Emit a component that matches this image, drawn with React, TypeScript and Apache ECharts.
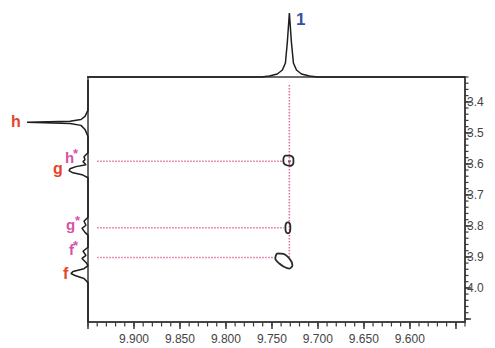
import React, { useEffect, useRef } from "react";
import * as echarts from "echarts";

// Axis ranges (ppm)
const X_MIN = 9.54;
const X_MAX = 9.95;
const Y_MIN = 3.32;
const Y_MAX = 4.11;
const X_MINOR_STEP = 0.01;
const Y_MINOR_STEP = 0.02;

// Tick labels
const xLabelValues = [9.9, 9.85, 9.8, 9.75, 9.7, 9.65, 9.6];
const xMajorTickValues = [9.95, 9.9, 9.85, 9.8, 9.75, 9.7, 9.65, 9.6, 9.55];
const yLabelValues = [3.4, 3.5, 3.6, 3.7, 3.8, 3.9, 4.0];
const yMajorTickValues = [3.4, 3.5, 3.6, 3.7, 3.8, 3.9, 4.0, 4.1];

// Top 1D projection (peak "1")
const topPpm = [9.951, 9.7615, 9.7528, 9.7441, 9.7386, 9.7353, 9.7332, 9.731, 9.7288, 9.7266, 9.7233, 9.7179, 9.7092, 9.7004, 9.54];
const topIntensity = [0, 0, 1, 3, 7, 14, 35, 64, 35, 14, 7, 3, 1, 0, 0];

// Left 1D projection (h, h*, g, g*, f*, f)
const leftPpm = [3.33, 3.427, 3.447, 3.457, 3.463, 3.466, 3.47, 3.476, 3.489, 3.512, 3.564, 3.577, 3.587, 3.593, 3.603, 3.609, 3.616, 3.622, 3.629, 3.635, 3.645, 3.772, 3.785, 3.798, 3.808, 3.821, 3.83, 3.869, 3.882, 3.895, 3.905, 3.918, 3.928, 3.938, 3.947, 3.954, 3.96, 3.97, 3.983, 4.11];
const leftIntensity = [0, 0, 3, 7, 18, 61, 18, 7, 3, 0, 0, 4, 3, 5, 2, 12, 18, 19, 15, 6, 0, 0, 4, 2, 6, 3, 0, 0, 5, 2, 6, 2, 0, 4, 15, 17, 13, 4, 0, 0];

// Cross peak contours
const contourHStarX = [9.7375, 9.7353, 9.731, 9.7266, 9.7266, 9.7299, 9.7353, 9.7375, 9.7375];
const contourHStarY = [3.5833, 3.5736, 3.5736, 3.5833, 3.5963, 3.6061, 3.6028, 3.5931, 3.5833];
const contourHStarDot = [9.731, 3.592];
const contourGStarX = [9.7326, 9.7304, 9.7299, 9.7304, 9.7326, 9.7348, 9.7353, 9.7348, 9.7326];
const contourGStarY = [3.7882, 3.793, 3.806, 3.819, 3.8239, 3.819, 3.806, 3.793, 3.7882];
const contourFStarX = [9.7441, 9.7375, 9.7332, 9.7288, 9.7277, 9.731, 9.7364, 9.7419, 9.7463, 9.7452, 9.7441];
const contourFStarY = [3.8889, 3.8905, 3.8987, 3.9149, 3.9279, 3.9377, 3.9328, 3.9214, 3.9052, 3.8922, 3.8889];

// Dotted guide lines
const guideVerticalX = 9.731;
const guideVerticalY = [3.346, 3.905];
const guideStartX = 9.94;
const guideRowsY = [3.592, 3.806, 3.902];
const guideRowsEndX = [9.7386, 9.737, 9.747];

const FONT = "'Liberation Sans', Arial, sans-serif";
const RED = "#e5432d";
const MAGENTA = "#d554a8";
const BLUE = "#3650a6";
const DOT = "#e36aa3";
const AXIS = "#3a3a3a";

function range(a: number, b: number, step: number, digits: number) {
  const out: number[] = [];
  const n = Math.round((b - a) / step);
  for (let i = 0; i <= n; i++) out.push(+(a + i * step).toFixed(digits));
  return out;
}

function pairs(xs: number[], ys: number[]) {
  return xs.map((x, i) => [x, ys[i]]);
}

export default function App() {
  const ref = useRef<HTMLDivElement>(null);
  useEffect(() => {
    const chart = echarts.init(ref.current!, null, { renderer: "svg" });
    const xMinor = range(X_MIN, X_MAX, X_MINOR_STEP, 2);
    const yMinor = range(Y_MIN, 4.1, Y_MINOR_STEP, 2);

    const lineBase = {
      type: "line",
      symbol: "none",
      animation: false,
      silent: true,
    };

    const series: any[] = [
      {
        ...lineBase,
        xAxisIndex: 1,
        yAxisIndex: 1,
        data: pairs(topPpm, topIntensity),
        lineStyle: { color: "#1e1e1e", width: 1.5 },
        clip: false,
      },
      {
        ...lineBase,
        xAxisIndex: 2,
        yAxisIndex: 2,
        data: pairs(leftIntensity, leftPpm),
        lineStyle: { color: "#1e1e1e", width: 1.5 },
        clip: false,
      },
      {
        ...lineBase,
        xAxisIndex: 0,
        yAxisIndex: 0,
        data: [
          [guideVerticalX, guideVerticalY[0]],
          [guideVerticalX, guideVerticalY[1]],
        ],
        lineStyle: { color: DOT, width: 1.5, type: [1.5, 1.5] },
      },
      ...guideRowsY.map((y, i) => ({
        ...lineBase,
        xAxisIndex: 0,
        yAxisIndex: 0,
        data: [
          [guideStartX, y],
          [guideRowsEndX[i], y],
        ],
        lineStyle: { color: DOT, width: 1.5, type: [1.5, 1.5] },
      })),
      {
        ...lineBase,
        xAxisIndex: 0,
        yAxisIndex: 0,
        smooth: 0.4,
        data: pairs(contourHStarX, contourHStarY),
        lineStyle: { color: "#2a2a2a", width: 1.8 },
      },
      {
        type: "scatter",
        xAxisIndex: 0,
        yAxisIndex: 0,
        symbolSize: 3,
        data: [contourHStarDot],
        itemStyle: { color: "#2a2a2a" },
        silent: true,
      },
      {
        ...lineBase,
        xAxisIndex: 0,
        yAxisIndex: 0,
        smooth: 0.4,
        data: pairs(contourGStarX, contourGStarY),
        lineStyle: { color: "#2a2a2a", width: 1.8 },
      },
      {
        ...lineBase,
        xAxisIndex: 0,
        yAxisIndex: 0,
        smooth: 0.3,
        data: pairs(contourFStarX, contourFStarY),
        lineStyle: { color: "#2a2a2a", width: 1.8 },
      },
      // Minor ticks on the bottom axis
      {
        type: "custom",
        xAxisIndex: 0,
        yAxisIndex: 0,
        silent: true,
        clip: false,
        data: xMinor.map((v) => [v, Y_MAX]),
        renderItem: (params: any, api: any) => {
          const p = api.coord([api.value(0), api.value(1)]);
          return {
            type: "line",
            shape: { x1: p[0], y1: p[1], x2: p[0], y2: p[1] + 4.5 },
            style: { stroke: AXIS, lineWidth: 1.2 },
          };
        },
      },
      // Minor ticks on the right axis
      {
        type: "custom",
        xAxisIndex: 0,
        yAxisIndex: 0,
        silent: true,
        clip: false,
        data: yMinor.map((v) => [X_MIN, v]),
        renderItem: (params: any, api: any) => {
          const p = api.coord([api.value(0), api.value(1)]);
          return {
            type: "line",
            shape: { x1: p[0], y1: p[1], x2: p[0] + 3.5, y2: p[1] },
            style: { stroke: AXIS, lineWidth: 1.2 },
          };
        },
      },
    ];

    const label = (text: string, x: number, y: number, color: string, size: number) => ({
      type: "text",
      x,
      y,
      silent: true,
      style: {
        text,
        fill: color,
        font: `bold ${size}px ${FONT}`,
        align: "left",
        verticalAlign: "middle",
      },
    });

    const option: any = {
      animation: false,
      backgroundColor: "#ffffff",
      grid: [
        {
          left: 88,
          right: 30,
          top: 77,
          bottom: 26,
          show: true,
          borderColor: AXIS,
          borderWidth: 1.5,
          backgroundColor: "transparent",
        },
        { left: 88, right: 30, top: 5, height: 72 },
        { left: 0, width: 88, top: 77, bottom: 26 },
      ],
      xAxis: [
        {
          type: "value",
          gridIndex: 0,
          min: X_MIN,
          max: X_MAX,
          inverse: true,
          position: "bottom",
          splitLine: { show: false },
          axisLine: { show: true, onZero: false, lineStyle: { color: AXIS, width: 1.5 } },
          axisTick: {
            show: true,
            inside: false,
            length: 7,
            customValues: xMajorTickValues,
            lineStyle: { color: AXIS, width: 1.5 },
          },
          axisLabel: {
            show: true,
            customValues: xLabelValues,
            margin: 11,
            color: "#444",
            fontSize: 12,
            fontFamily: FONT,
            formatter: (v: number) => v.toFixed(3),
          },
        },
        {
          type: "value",
          gridIndex: 1,
          min: X_MIN,
          max: X_MAX,
          inverse: true,
          show: false,
        },
        {
          type: "value",
          gridIndex: 2,
          min: 0,
          max: 88,
          inverse: true,
          show: false,
        },
      ],
      yAxis: [
        {
          type: "value",
          gridIndex: 0,
          min: Y_MIN,
          max: Y_MAX,
          inverse: true,
          position: "right",
          splitLine: { show: false },
          axisLine: { show: true, onZero: false, lineStyle: { color: AXIS, width: 1.5 } },
          axisTick: {
            show: true,
            length: 6,
            customValues: yMajorTickValues,
            lineStyle: { color: AXIS, width: 1.5 },
          },
          axisLabel: {
            show: true,
            customValues: yLabelValues,
            margin: 2,
            color: "#444",
            fontSize: 12,
            fontFamily: FONT,
            formatter: (v: number) => v.toFixed(1),
          },
        },
        {
          type: "value",
          gridIndex: 1,
          min: 0,
          max: 72,
          show: false,
        },
        {
          type: "value",
          gridIndex: 2,
          min: Y_MIN,
          max: Y_MAX,
          inverse: true,
          show: false,
        },
      ],
      series,
      graphic: [
        label("1", 296, 19, BLUE, 17),
        label("h", 11, 121, RED, 16),
        label("h", 65, 157, MAGENTA, 15),
        label("*", 73, 153, MAGENTA, 13),
        label("g", 53, 168, RED, 16),
        label("g", 66, 224, MAGENTA, 15),
        label("*", 75, 220, MAGENTA, 13),
        label("f", 69, 249, MAGENTA, 15),
        label("*", 73, 245, MAGENTA, 13),
        label("f", 63, 273, RED, 16),
      ],
    };
    chart.setOption(option);
    return () => chart.dispose();
  }, []);
  return (
    <div
      ref={ref}
      style={{ position: "absolute", left: 0, top: 0, width: 495, height: 348 }}
    />
  );
}
